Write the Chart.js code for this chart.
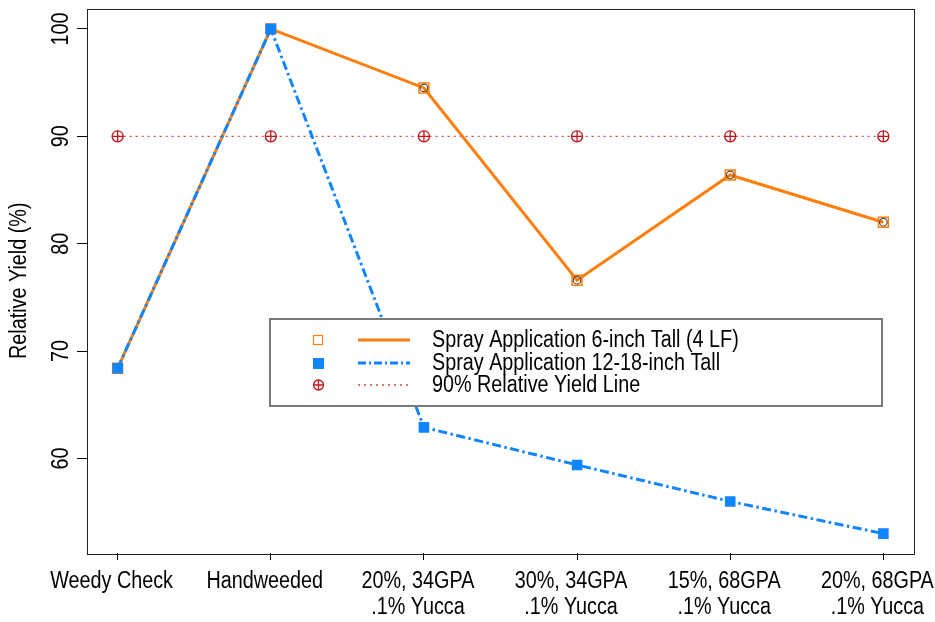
<!DOCTYPE html>
<html><head><meta charset="utf-8">
<script src="https://cdn.jsdelivr.net/npm/chart.js@4.4.0/dist/chart.umd.min.js"></script>
<style>html,body{margin:0;padding:0;background:#fff}#wrap{width:935px;height:622px}</style>
</head><body><div id="wrap"><canvas id="c" width="935" height="622"></canvas></div>
<script>
const categories = [["Weedy Check"], ["Handweeded"], ["20%, 34GPA", ".1% Yucca"], ["30%, 34GPA", ".1% Yucca"], ["15%, 68GPA", ".1% Yucca"], ["20%, 68GPA", ".1% Yucca"]];
const sixInch = [68.4, 100, 94.5, 76.6, 86.4, 82.0];
const twelveInch = [68.4, 100, 62.9, 59.4, 56.0, 53.0];
const refLine = [90, 90, 90, 90, 90, 90];
const yTicks = [60, 70, 80, 90, 100];
const seriesNames = ["Spray Application 6-inch Tall (4 LF)", "Spray Application 12-18-inch Tall", "90% Relative Yield Line"];
const yTitle = "Relative Yield (%)";

const ORANGE = '#ff7f0e', BLUE = '#0f85ff', RED = '#c0141c';
const FONT = '"Liberation Sans", Arial, Helvetica, sans-serif';
const FS = 23;      // font size
const SX = 0.86;    // horizontal condensing (reference text is narrow Helvetica)
const pts = arr => arr.map((v, i) => ({x: i, y: v}));

function condensedText(ctx, text, x, y, rot, align) {
  ctx.save();
  ctx.translate(x, y);
  if (rot) ctx.rotate(rot);
  ctx.scale(SX, 1);
  ctx.textAlign = align; ctx.textBaseline = 'middle';
  ctx.fillText(text, 0, 0);
  ctx.restore();
}

const textPlugin = {
  id: 'texts',
  afterDraw(chart) {
    const {ctx, chartArea: a, scales: {x: xs, y: ys}} = chart;
    ctx.save();
    ctx.strokeStyle = '#222'; ctx.lineWidth = 1;
    ctx.strokeRect(Math.round(a.left) + 0.5, Math.round(a.top) + 0.5, Math.round(a.right - a.left), Math.round(a.bottom - a.top));
    ctx.font = FS + 'px ' + FONT; ctx.fillStyle = '#000';
    categories.forEach((lines, i) => {
      const px = xs.getPixelForValue(i) - 6;
      lines.forEach((t, k) => condensedText(ctx, t, px, a.bottom + 29 + k * 26, 0, 'center'));
    });
    yTicks.forEach(v => condensedText(ctx, String(v), a.left - 25, ys.getPixelForValue(v), -Math.PI / 2, 'center'));
    condensedText(ctx, yTitle, 20, (a.top + a.bottom) / 2, -Math.PI / 2, 'center');
    // legend
    const lx = 270, ly = 319, lw = 612, lh = 87;
    ctx.fillStyle = '#fff';
    ctx.fillRect(lx, ly, lw, lh);
    ctx.strokeStyle = '#7a7a7a'; ctx.lineWidth = 2;
    ctx.strokeRect(lx, ly, lw, lh);
    const rows = [340, 363, 385];
    rows.forEach((ry, i) => {
      ctx.save();
      if (i === 0) { ctx.strokeStyle = ORANGE; ctx.lineWidth = 1.2; ctx.strokeRect(313.5, ry - 4.5, 9, 9); }
      if (i === 1) { ctx.fillStyle = BLUE; ctx.fillRect(313, ry - 5, 11, 11); }
      if (i === 2) {
        ctx.strokeStyle = RED; ctx.lineWidth = 1.3;
        ctx.beginPath(); ctx.arc(318.5, ry, 5, 0, Math.PI * 2); ctx.stroke();
        ctx.beginPath(); ctx.moveTo(313.5, ry); ctx.lineTo(323.5, ry); ctx.moveTo(318.5, ry - 5); ctx.lineTo(318.5, ry + 5); ctx.stroke();
      }
      ctx.beginPath();
      if (i === 0) { ctx.strokeStyle = ORANGE; ctx.lineWidth = 3; ctx.setLineDash([]); }
      if (i === 1) { ctx.strokeStyle = BLUE; ctx.lineWidth = 3; ctx.setLineDash([8, 3, 2, 3]); }
      if (i === 2) { ctx.strokeStyle = '#cc4b4b'; ctx.lineWidth = 1.3; ctx.setLineDash([2, 4]); }
      ctx.moveTo(358, ry); ctx.lineTo(410, ry); ctx.stroke();
      ctx.restore();
      ctx.fillStyle = '#000';
      condensedText(ctx, seriesNames[i], 432, ry + 1, 0, 'left');
    });
    ctx.restore();
  }
};

new Chart(document.getElementById('c'), {
  type: 'line',
  data: {
    datasets: [
      {label: seriesNames[1], data: pts(twelveInch), order: 0, borderColor: BLUE, borderWidth: 3,
       borderDash: [9, 3.5, 2.5, 3.5], pointStyle: 'rect', pointRadius: 7.5, pointBackgroundColor: BLUE, pointBorderColor: BLUE, pointBorderWidth: 0},
      {label: 'inner', data: pts(sixInch), order: 1, showLine: false, pointStyle: 'circle', pointRadius: 3.8,
       pointBackgroundColor: 'rgba(0,0,0,0)', pointBorderColor: '#5a4a3a', pointBorderWidth: 1.2},
      {label: seriesNames[0], data: pts(sixInch), order: 2, borderColor: ORANGE, borderWidth: 3,
       pointStyle: 'rect', pointRadius: 7, pointBackgroundColor: 'rgba(0,0,0,0)', pointBorderColor: ORANGE, pointBorderWidth: 1.5},
      {label: 'refcross', data: pts(refLine), order: 3, showLine: false, pointStyle: 'cross', pointRadius: 5.5,
       pointBorderColor: RED, pointBorderWidth: 1.3},
      {label: seriesNames[2], data: pts(refLine), order: 4, borderColor: '#cc4b4b', borderWidth: 1.3, borderDash: [2, 4],
       pointStyle: 'circle', pointRadius: 5.5, pointBackgroundColor: 'rgba(0,0,0,0)', pointBorderColor: RED, pointBorderWidth: 1.3}
    ]
  },
  options: {
    responsive: false, animation: false, devicePixelRatio: 1,
    layout: {padding: {top: 8, right: 21, left: 0, bottom: 0}},
    plugins: {legend: {display: false}, tooltip: {enabled: false}},
    elements: {line: {tension: 0}},
    scales: {
      x: {
        type: 'linear', min: -0.2, max: 5.2,
        afterBuildTicks: s => { s.ticks = categories.map((_, i) => ({value: i})); },
        afterFit: s => { s.height = 69; s.paddingLeft = 0; s.paddingRight = 0; },
        ticks: {display: false},
        grid: {drawOnChartArea: false, drawTicks: true, tickLength: 7, color: '#000', tickWidth: 1},
        border: {display: false}
      },
      y: {
        type: 'linear', min: 51.2, max: 101.9,
        afterBuildTicks: s => { s.ticks = yTicks.map(v => ({value: v})); },
        afterFit: s => { s.width = 87; s.paddingTop = 0; s.paddingBottom = 0; },
        ticks: {display: false},
        grid: {drawOnChartArea: false, drawTicks: true, tickLength: 10, color: '#000', tickWidth: 1},
        border: {display: false}
      }
    }
  },
  plugins: [textPlugin]
});
</script></body></html>
